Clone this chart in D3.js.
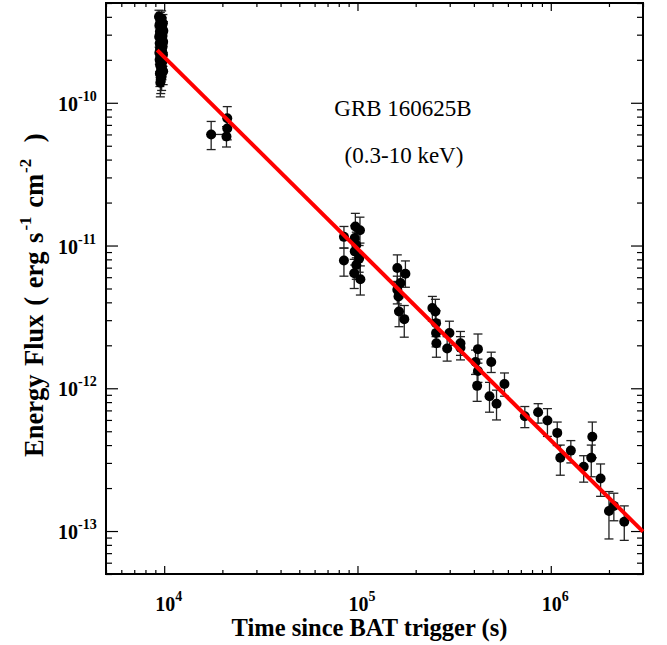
<!DOCTYPE html>
<html>
<head>
<meta charset="utf-8">
<script src="https://cdn.jsdelivr.net/npm/d3@7"></script>
<style>
  body { margin: 0; background: #fff; }
  text { font-family: "Liberation Serif", "Times New Roman", serif; }
</style>
</head>
<body>
<div id="chart"></div>
<script>
// each row: [time (s), flux, flux lower, flux upper]
var orbit1 = [
  [9400, 4.0e-10, 3.45e-10, 4.45e-10], [9700, 3.9e-10, 3.35e-10, 4.4e-10],
  [9550, 3.75e-10, 3.2e-10, 4.3e-10], [9850, 3.6e-10, 3.05e-10, 4.15e-10],
  [9450, 3.5e-10, 3.0e-10, 4.05e-10], [9750, 3.42e-10, 2.9e-10, 3.95e-10],
  [9600, 3.3e-10, 2.8e-10, 3.8e-10], [9900, 3.2e-10, 2.7e-10, 3.7e-10],
  [9500, 3.15e-10, 2.65e-10, 3.65e-10], [9650, 3.05e-10, 2.6e-10, 3.55e-10],
  [9800, 2.95e-10, 2.5e-10, 3.45e-10], [9420, 2.9e-10, 2.45e-10, 3.35e-10],
  [9720, 2.82e-10, 2.38e-10, 3.28e-10], [9580, 2.75e-10, 2.3e-10, 3.2e-10],
  [9880, 2.68e-10, 2.25e-10, 3.12e-10], [9480, 2.6e-10, 2.2e-10, 3.05e-10],
  [9680, 2.55e-10, 2.15e-10, 2.98e-10], [9820, 2.48e-10, 2.1e-10, 2.9e-10],
  [9520, 2.42e-10, 2.02e-10, 2.85e-10], [9620, 2.35e-10, 1.97e-10, 2.76e-10],
  [9760, 2.3e-10, 1.92e-10, 2.7e-10], [9440, 2.24e-10, 1.86e-10, 2.64e-10],
  [9860, 2.18e-10, 1.8e-10, 2.58e-10], [9560, 2.12e-10, 1.76e-10, 2.5e-10],
  [9700, 2.06e-10, 1.7e-10, 2.44e-10], [9470, 2.0e-10, 1.65e-10, 2.38e-10],
  [9800, 1.95e-10, 1.6e-10, 2.32e-10], [9600, 1.9e-10, 1.56e-10, 2.26e-10],
  [9520, 1.84e-10, 1.5e-10, 2.2e-10], [9740, 1.78e-10, 1.45e-10, 2.13e-10],
  [9650, 1.72e-10, 1.4e-10, 2.06e-10], [9880, 1.66e-10, 1.34e-10, 2.0e-10],
  [9500, 1.6e-10, 1.3e-10, 1.93e-10], [9700, 1.53e-10, 1.22e-10, 1.85e-10],
  [9600, 1.45e-10, 1.16e-10, 1.76e-10], [9550, 1.38e-10, 1.1e-10, 1.68e-10]
];
var orbit2 = [
  [17500, 6.0e-11, 4.7e-11, 7.4e-11], [21200, 7.8e-11, 6.6e-11, 9.4e-11],
  [21200, 6.6e-11, 5.5e-11, 7.8e-11], [21000, 5.8e-11, 4.9e-11, 6.8e-11]
];
// horizontal error of the 17500 s point: [time, flux, t lower, t upper]
var xErrors = [[17500, 6.0e-11, 16500, 21000]];
var epoch3 = [
  [85100, 1.15e-11, 9.6e-12, 1.36e-11], [85100, 7.85e-12, 6.1e-12, 9.6e-12],
  [97500, 1.36e-11, 1.1e-11, 1.68e-11], [103000, 1.28e-11, 1.04e-11, 1.58e-11],
  [96800, 1.13e-11, 9.2e-12, 1.38e-11], [98600, 1.01e-11, 8.2e-12, 1.24e-11],
  [96800, 9.1e-12, 7.3e-12, 1.12e-11], [102000, 8.1e-12, 6.5e-12, 1.0e-11],
  [98600, 7.3e-12, 5.8e-12, 9.0e-12], [96200, 6.4e-12, 5.0e-12, 8.0e-12],
  [103500, 5.8e-12, 4.5e-12, 7.2e-12]
];
var epoch4 = [
  [160700, 6.96e-12, 5.6e-12, 8.6e-12], [177000, 6.34e-12, 5.1e-12, 7.8e-12],
  [167000, 5.46e-12, 4.4e-12, 6.7e-12], [160700, 4.9e-12, 3.9e-12, 6.1e-12],
  [163000, 4.4e-12, 3.5e-12, 5.5e-12], [164000, 3.45e-12, 2.7e-12, 4.3e-12],
  [174600, 3.05e-12, 2.28e-12, 3.8e-12]
];
var epoch5 = [
  [244000, 3.65e-12, 2.95e-12, 4.4e-12], [253000, 3.45e-12, 2.8e-12, 4.2e-12],
  [255000, 2.86e-12, 2.3e-12, 3.5e-12], [255000, 2.44e-12, 1.95e-12, 3.0e-12],
  [256000, 2.07e-12, 1.65e-12, 2.55e-12], [291000, 1.9e-12, 1.55e-12, 2.3e-12],
  [299000, 2.44e-12, 2.0e-12, 2.95e-12], [341000, 2.07e-12, 1.7e-12, 2.5e-12],
  [341000, 1.92e-12, 1.58e-12, 2.3e-12]
];
var lateTime = [
  [408000, 1.53e-12, 1.25e-12, 1.85e-12], [420000, 1.88e-12, 1.5e-12, 2.4e-12],
  [420000, 1.32e-12, 1.1e-12, 1.6e-12], [416000, 1.04e-12, 8.1e-13, 1.28e-12],
  [492000, 1.53e-12, 1.29e-12, 1.79e-12], [482000, 8.8e-13, 6.8e-13, 1.1e-12],
  [524000, 7.8e-13, 6.0e-13, 9.7e-13], [576000, 1.07e-12, 8.8e-13, 1.28e-12],
  [734000, 6.37e-13, 5.3e-13, 7.45e-13], [860000, 6.79e-13, 5.7e-13, 7.8e-13],
  [961000, 5.94e-13, 4.6e-13, 7.2e-13], [1.08e6, 4.87e-13, 3.97e-13, 5.8e-13],
  [1.12e6, 3.26e-13, 2.46e-13, 4.0e-13], [1.27e6, 3.66e-13, 3.0e-13, 4.3e-13],
  [1.48e6, 2.82e-13, 2.2e-13, 3.37e-13], [1.64e6, 4.57e-13, 3.26e-13, 5.8e-13],
  [1.62e6, 3.26e-13, 2.4e-13, 4.0e-13], [1.81e6, 2.33e-13, 1.75e-13, 2.95e-13],
  [2.0e6, 1.38e-13, 8.8e-14, 1.89e-13], [2.12e6, 1.5e-13, 1.18e-13, 1.84e-13],
  [2.4e6, 1.16e-13, 8.6e-14, 1.5e-13]
];
// power-law fit end points
var fitTime = [9200, 3.0e6];
var fitFlux = [2.34e-10, 9.9e-14];

var xTickLabels = [1e4, 1e5, 1e6];
var yTickLabels = [1e-10, 1e-11, 1e-12, 1e-13];

var allData = orbit1.concat(orbit2, epoch3, epoch4, epoch5, lateTime);

var width = 667, height = 645;
var margin = {left: 106, right: 24, top: 3, bottom: 71};
var w = width - margin.left - margin.right;
var h = height - margin.top - margin.bottom;

var svg = d3.select("#chart")
    .append("svg")
    .attr("width", width)
    .attr("height", height)
    .append("g")
    .attr("transform", "translate(" + margin.left + "," + margin.top + ")");

var x = d3.scaleLog().domain([5000, 3e6]).range([0, w]);
var y = d3.scaleLog().domain([5e-14, 5e-10]).range([h, 0]);

function isMajor(v) {
    var l = Math.log10(v);
    return Math.abs(l - Math.round(l)) < 1e-6;
}

// axes on all four sides, ticks pointing in
function styleAxis(g, majorLen, minorLen, sign) {
    g.select(".domain").remove();
    g.selectAll(".tick line")
        .attr("stroke", "#000")
        .attr("stroke-width", 1.2)
        .each(function (d) {
            var len = (isMajor(d) ? majorLen : minorLen) * sign;
            var line = d3.select(this);
            if (line.attr("x2") != null && +line.attr("x2") !== 0) line.attr("x2", len);
            else line.attr("y2", len);
        });
}

svg.append("g")
    .attr("transform", "translate(0," + h + ")")
    .call(d3.axisBottom(x).tickSize(6).tickFormat(""))
    .call(styleAxis, 8, 4, -1);
svg.append("g")
    .call(d3.axisTop(x).tickSize(6).tickFormat(""))
    .call(styleAxis, 8, 4, 1);
svg.append("g")
    .call(d3.axisLeft(y).tickSize(6).tickFormat(""))
    .call(styleAxis, 12, 6, 1);
svg.append("g")
    .attr("transform", "translate(" + w + ",0)")
    .call(d3.axisRight(y).tickSize(6).tickFormat(""))
    .call(styleAxis, 12, 6, -1);

// frame
svg.append("rect")
    .attr("width", w)
    .attr("height", h)
    .attr("fill", "none")
    .attr("stroke", "#000")
    .attr("stroke-width", 2);

// tick labels
svg.append("g").selectAll("text")
    .data(xTickLabels)
    .enter()
    .append("text")
    .attr("x", function (d) { return x(d) - 9; })
    .attr("y", h + 37)
    .style("font-weight", "bold")
    .style("font-size", "20px")
    .each(function (d) {
        var t = d3.select(this);
        t.append("tspan").text("10");
        t.append("tspan").attr("dy", -10).style("font-size", "14px").text(Math.round(Math.log10(d)));
    });

svg.append("g").selectAll("text")
    .data(yTickLabels)
    .enter()
    .append("text")
    .attr("x", -48)
    .attr("y", function (d) { return y(d) + 8; })
    .style("font-weight", "bold")
    .style("font-size", "20px")
    .each(function (d) {
        var t = d3.select(this);
        t.append("tspan").text("10");
        t.append("tspan").attr("dy", -10).style("font-size", "14px").text("-" + Math.round(-Math.log10(d)));
    });

// axis titles
svg.append("text")
    .attr("x", w / 2 - 5)
    .attr("y", h + 62)
    .attr("text-anchor", "middle")
    .style("font-weight", "bold")
    .style("font-size", "24.5px")
    .text("Time since BAT trigger (s)");

var yTitle = svg.append("text")
    .attr("transform", "translate(-63,454) rotate(-90)")
    .style("font-weight", "bold")
    .style("font-size", "26.5px")
    .style("word-spacing", "2px");
yTitle.append("tspan").text("Energy Flux ( erg s");
yTitle.append("tspan").attr("dy", -12).attr("dx", 2).style("font-size", "17px").text("-1");
yTitle.append("tspan").attr("dy", 12).text(" cm");
yTitle.append("tspan").attr("dy", -12).attr("dx", 1).style("font-size", "17px").text("-2");
yTitle.append("tspan").attr("dy", 12).attr("dx", 8).text(" )");

// annotation
svg.append("text")
    .attr("x", 297)
    .attr("y", 113)
    .attr("text-anchor", "middle")
    .style("font-size", "23px")
    .text("GRB 160625B");
svg.append("text")
    .attr("x", 298)
    .attr("y", 160)
    .attr("text-anchor", "middle")
    .style("font-size", "23px")
    .text("(0.3-10 keV)");

// error bars
var cap = 4.5;
var bars = svg.append("g")
    .attr("stroke", "#222")
    .attr("stroke-width", 1.3);
bars.selectAll(".ebar")
    .data(allData)
    .enter()
    .append("line")
    .attr("x1", function (d) { return x(d[0]); })
    .attr("x2", function (d) { return x(d[0]); })
    .attr("y1", function (d) { return y(d[2]); })
    .attr("y2", function (d) { return y(d[3]); });
bars.selectAll(".capLo")
    .data(allData)
    .enter()
    .append("line")
    .attr("x1", function (d) { return x(d[0]) - cap; })
    .attr("x2", function (d) { return x(d[0]) + cap; })
    .attr("y1", function (d) { return y(d[2]); })
    .attr("y2", function (d) { return y(d[2]); });
bars.selectAll(".capHi")
    .data(allData)
    .enter()
    .append("line")
    .attr("x1", function (d) { return x(d[0]) - cap; })
    .attr("x2", function (d) { return x(d[0]) + cap; })
    .attr("y1", function (d) { return y(d[3]); })
    .attr("y2", function (d) { return y(d[3]); });
bars.selectAll(".xbar")
    .data(xErrors)
    .enter()
    .append("line")
    .attr("x1", function (d) { return x(d[2]); })
    .attr("x2", function (d) { return x(d[3]); })
    .attr("y1", function (d) { return y(d[1]); })
    .attr("y2", function (d) { return y(d[1]); });

// points
svg.append("g")
    .selectAll("circle")
    .data(allData)
    .enter()
    .append("circle")
    .attr("cx", function (d) { return x(d[0]); })
    .attr("cy", function (d) { return y(d[1]); })
    .attr("r", 5)
    .style("fill", "#000");

// fit line
var fit = fitTime.map(function (t, i) { return [t, fitFlux[i]]; });
svg.append("path")
    .datum(fit)
    .attr("fill", "none")
    .attr("stroke", "#ff0000")
    .attr("stroke-width", 4)
    .attr("d", d3.line()
        .x(function (d) { return x(d[0]); })
        .y(function (d) { return y(d[1]); }));
</script>
</body>
</html>
